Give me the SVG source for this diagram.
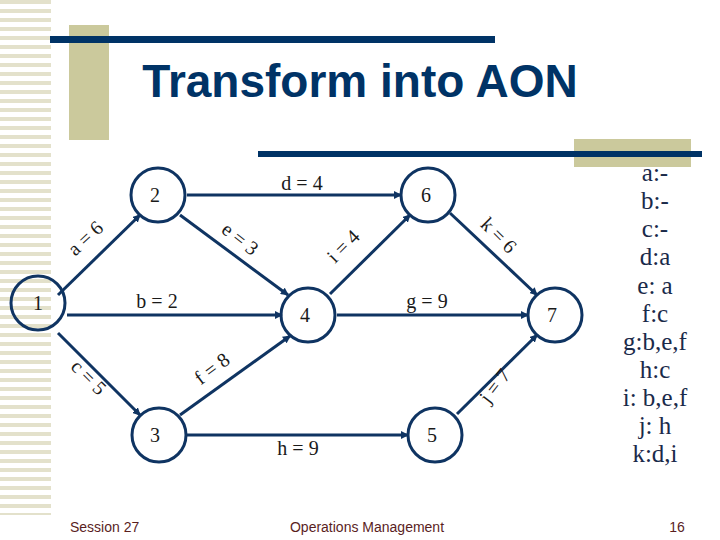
<svg xmlns="http://www.w3.org/2000/svg" width="720" height="540" viewBox="0 0 720 540">
<defs>
<pattern id="st" width="51" height="9" patternUnits="userSpaceOnUse"><rect width="51" height="9" fill="#fff"/><rect y="0" width="51" height="4" fill="#e3e1cb"/></pattern>
<marker id="ar" markerWidth="8" markerHeight="8" refX="7" refY="4" orient="auto" markerUnits="userSpaceOnUse"><path d="M0,0 L8,4 L0,8 z" fill="#0f3462"/></marker>
</defs>
<style>
.n circle{fill:none;stroke:#0f3462;stroke-width:3}
.n text,.l{font-family:"Liberation Serif",serif;font-size:20px;fill:#1a1a1a;text-anchor:middle}
.e line{stroke:#0f3462;stroke-width:3;marker-end:url(#ar)}
.r{font-family:"Liberation Serif",serif;font-size:25px;fill:#1a2a4a;text-anchor:middle}
.f{font-family:"Liberation Sans",sans-serif;font-size:14px;fill:#5a1e1e}
</style>
<rect width="720" height="540" fill="#fff"/>
<rect x="0" y="0" width="51" height="515" fill="url(#st)"/>
<rect x="69" y="25" width="40" height="115" fill="#cbc99c"/>
<rect x="50" y="36" width="445" height="7" fill="#003366"/>
<rect x="574" y="139" width="117" height="28" fill="#cbc99c"/>
<rect x="258" y="151" width="444" height="6" fill="#003366"/>
<text x="360" y="97" font-family="Liberation Sans,sans-serif" font-weight="bold" font-size="46" fill="#003366" text-anchor="middle">Transform into AON</text>
<g class="e">
<line x1="58" y1="295" x2="140" y2="215"/>
<line x1="67" y1="315" x2="282" y2="315"/>
<line x1="58" y1="333" x2="140" y2="415"/>
<line x1="180" y1="215" x2="288" y2="295"/>
<line x1="180" y1="415" x2="290" y2="336"/>
<line x1="187" y1="195" x2="401" y2="195"/>
<line x1="330" y1="294" x2="410" y2="215"/>
<line x1="337" y1="315" x2="528" y2="315"/>
<line x1="450" y1="213" x2="537" y2="295"/>
<line x1="187" y1="435" x2="408" y2="435"/>
<line x1="457" y1="414" x2="537" y2="335"/>
</g>
<g id="labels">
<text class="l" transform="translate(90,243) rotate(-43)">a = 6</text>
<text class="l" transform="translate(236,244) rotate(38)">e = 3</text>
<text class="l" transform="translate(84,382) rotate(45)">c = 5</text>
<text class="l" transform="translate(216,374) rotate(-37)">f = 8</text>
<text class="l" transform="translate(348,251) rotate(-45)">i = 4</text>
<text class="l" transform="translate(494,240) rotate(45)">k = 6</text>
<text class="l" transform="translate(500,390) rotate(-52)">j = 7</text>
<text class="l" x="302" y="190">d = 4</text>
<text class="l" x="157" y="308">b = 2</text>
<text class="l" x="427" y="308">g = 9</text>
<text class="l" x="298" y="455">h = 9</text>
</g>
<g id="n1" class="n"><circle cx="38" cy="303" r="27"/><text x="38" y="310">1</text></g>
<g id="n2" class="n"><circle cx="158" cy="195" r="27"/><text x="155" y="202">2</text></g>
<g id="n3" class="n"><circle cx="159" cy="435" r="27"/><text x="155" y="442">3</text></g>
<g id="n4" class="n"><circle cx="308" cy="315" r="27"/><text x="305" y="322">4</text></g>
<g id="n5" class="n"><circle cx="435" cy="435" r="27"/><text x="432" y="442">5</text></g>
<g id="n6" class="n"><circle cx="428" cy="195" r="27"/><text x="426" y="202">6</text></g>
<g id="n7" class="n"><circle cx="555" cy="315" r="27"/><text x="552" y="322">7</text></g>
<g id="list">
<text class="r" x="655" y="181">a:-</text>
<text class="r" x="655" y="209">b:-</text>
<text class="r" x="655" y="237">c:-</text>
<text class="r" x="655" y="265">d:a</text>
<text class="r" x="655" y="294">e: a</text>
<text class="r" x="655" y="322">f:c</text>
<text class="r" x="655" y="350">g:b,e,f</text>
<text class="r" x="655" y="378">h:c</text>
<text class="r" x="655" y="406">i: b,e,f</text>
<text class="r" x="655" y="434">j: h</text>
<text class="r" x="655" y="462">k:d,i</text>
</g>
<text class="f" x="70" y="532">Session 27</text>
<text class="f" x="367" y="532" text-anchor="middle">Operations Management</text>
<text class="f" x="677" y="532" text-anchor="middle">16</text>
</svg>
